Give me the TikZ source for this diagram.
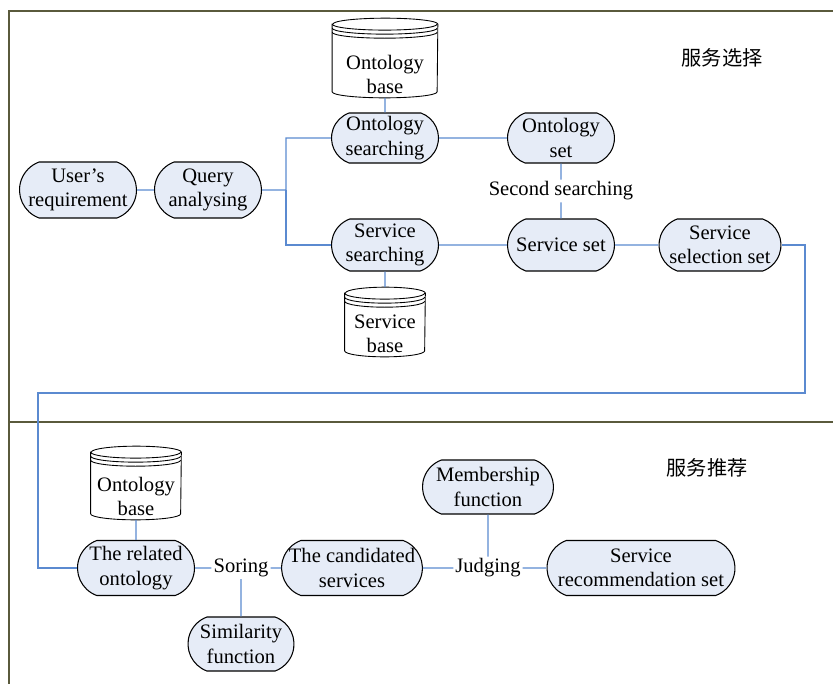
\documentclass[tikz,border=0pt]{standalone}
\usepackage{fontspec}
\setmainfont{Liberation Serif}
\newfontfamily\cjk{Noto Sans CJK SC}
\usetikzlibrary{shapes.misc}
\definecolor{framecol}{HTML}{5A5A3C}
\definecolor{linkcol}{HTML}{5B8AD0}
\definecolor{boxfill}{HTML}{E6ECF7}
\tikzset{
  proc/.style={rounded rectangle, rounded rectangle arc length=140, draw=black,
    fill=boxfill, line width=0.6pt, align=center, inner xsep=0pt, inner ysep=1pt},
  link/.style={draw=linkcol, line width=0.6pt},
  lbl/.style={fill=white, inner sep=1pt},
  frame/.style={draw=framecol, line width=1.2pt},
  dbshape/.style={draw=black, fill=white, line width=0.5pt},
  zone/.style={fill=white, inner xsep=30pt, inner ysep=4pt, font=\cjk\fontsize{11.5pt}{13pt}\selectfont}
}
% database drum: name, position, width, height, text
\newcommand\dbnode[5]{%
  \node[minimum width=#3, minimum height=#4, inner sep=0pt] (#1) at #2 {};
  \filldraw[dbshape] ([yshift=-3.4pt]#1.north west) -- ([yshift=3.4pt]#1.south west)
    arc[start angle=180, end angle=360, x radius=#3/2, y radius=3.4pt]
    -- ([yshift=-3.4pt]#1.north east)
    arc[start angle=0, end angle=180, x radius=#3/2, y radius=3.4pt] -- cycle;
  \foreach \dy in {3.4pt,5.7pt,8pt}
    \draw[dbshape, fill=none] ([yshift=-\dy]#1.north west)
      arc[start angle=180, end angle=360, x radius=#3/2, y radius=3.4pt];
  \node[align=center, anchor=south, inner sep=0pt] at ([yshift=2pt]#1.south) {#5};
}
\begin{document}
\begin{tikzpicture}[x=0.02cm, y=-0.02cm, font=\fontsize{11.7pt}{13.8pt}\selectfont]
\useasboundingbox (0,0) rectangle (833,684);
% frame
\draw[frame] (833,11) -- (9,11) -- (9,684);
\draw[frame] (9,422) -- (833,422);
\node[zone] (selzone) at (722,58) {服务选择};
\node[zone] (reczone) at (707,468) {服务推荐};

% service selection
\dbnode{obase}{(385,58)}{2.1cm}{1.58cm}{Ontology\\base}
\node[proc, minimum width=2.14cm, minimum height=1cm] (osearch) at (385,138) {Ontology\\searching};
\node[proc, minimum width=2.14cm, minimum height=1cm] (oset) at (561,138) {Ontology\\set};
\node[lbl] (second) at (561,191) {Second searching};
\node[proc, minimum width=2.34cm, minimum height=1.12cm] (user) at (78,190) {User's\\requirement};
\node[proc, minimum width=2.14cm, minimum height=1.12cm] (query) at (208,190) {Query\\analysing};
\node[proc, minimum width=2.14cm, minimum height=1.04cm] (ssearch) at (385,245) {Service\\searching};
\node[proc, minimum width=2.14cm, minimum height=1.04cm] (sset) at (561,245) {Service set};
\node[proc, minimum width=2.44cm, minimum height=1.04cm] (ssel) at (720,245) {Service\\selection set};
\dbnode{sbase}{(385,322)}{1.6cm}{1.38cm}{Service\\base}

\coordinate (fork) at (286,190);
\draw[link] (user) -- (query);
\draw[link] (query) -- (fork) |- (osearch);
\draw[link] (fork) |- (ssearch);
\draw[link] (obase) -- (osearch);
\draw[link] (osearch) -- (oset);
\draw[link] (oset) -- (second) -- (sset);
\draw[link] (ssearch) -- (sset) -- (ssel);
\draw[link] (ssearch) -- (sbase);

% service recommendation
\dbnode{obasetwo}{(136,483)}{1.8cm}{1.46cm}{Ontology\\base}
\node[proc, minimum width=2.34cm, minimum height=1.1cm] (related) at (136,568) {The related\\ontology};
\node[lbl] (soring) at (241,568) {Soring};
\node[proc, minimum width=2.12cm, minimum height=1.08cm] (simfun) at (241,644) {Similarity\\function};
\node[proc, minimum width=2.74cm, minimum height=1.1cm] (cand) at (352,568) {The candidated\\services};
\node[lbl] (judge) at (488,568) {Judging};
\node[proc, minimum width=2.62cm, minimum height=1.08cm] (member) at (488,487) {Membership\\function};
\node[proc, minimum width=3.76cm, minimum height=1.1cm] (recset) at (641,568) {Service\\recommendation set};

\coordinate (turnr) at (805,393);
\coordinate (turnl) at (38,393);
\draw[link] (ssel.east) -| (turnr) -- (turnl) |- (related);
\draw[link] (obasetwo) -- (related);
\draw[link] (related) -- (soring) -- (cand);
\draw[link] (soring) -- (simfun);
\draw[link] (cand) -- (judge) -- (recset);
\draw[link] (member) -- (judge);
\end{tikzpicture}
\end{document}
